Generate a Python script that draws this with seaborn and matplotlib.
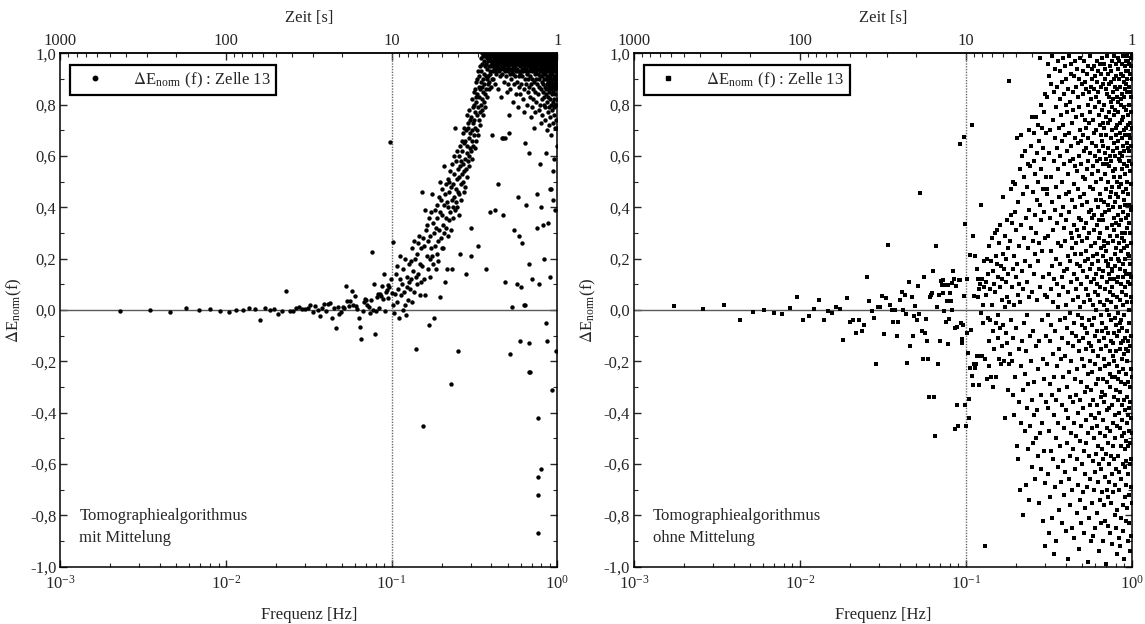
import numpy as np
import pandas as pd
import matplotlib
matplotlib.use("Agg")
import matplotlib.pyplot as plt
import seaborn as sns
from matplotlib.ticker import FixedLocator, FuncFormatter, LogLocator, NullFormatter, MultipleLocator

# ---------------------------------------------------------------------------
# Spectrum of the normalised energy difference, cell 13
# frequency of sample i: (first_bin + i) * bin_width
# ---------------------------------------------------------------------------
first_bin = 2
bin_width_mit = 0.00115     # Hz, with averaging
bin_width_ohne = 0.00087    # Hz, without averaging

# --- with averaging ---------------------------------------------------------
mit_low = [  # below 0.1 Hz
    -0.003, 0.0, -0.008, 0.006, 0.0, 0.005, -0.004, -0.009, 0.0, 0.0,
    0.006, 0.003, -0.038, 0.006, 0.0, 0.005, -0.016, -0.003, 0.074, -0.003,
    -0.003, 0.009, 0.012, 0.005, 0.005, 0.008, 0.019, -0.009, 0.014, 0.001,
    -0.022, 0.006, 0.025, -0.003, 0.022, 0.029, -0.03, 0.006, -0.069, 0.012,
    -0.014, -0.009, 0.012, 0.006, 0.094, 0.034, 0.017, 0.036, 0.075, 0.021,
    0.053, 0.017, 0.004, -0.032, -0.066, -0.113, -0.005, 0.03, 0.042, 0.04,
    0.019, 0.01, -0.012, 0.039, 0.226, 0.001, 0.101, -0.092, -0.003, 0.049,
    0.064, 0.006, 0.062, 0.056, 0.092, 0.044, 0.139, -0.004, 0.071, 0.078,
    0.045, 0.099, 0.088, 0.656, 0.12, 0.066, 0.265, 0.019, -0.012, 0.062,
]
mit_mid = [  # 0.1 - 0.4 Hz
    0.14, 0.03, 0.17, 0.08, -0.03, 0.12, 0.21, 0.06, 0.10, 0.00,
    0.16, 0.07, 0.02, 0.20, -0.02, 0.13, 0.09, 0.04, 0.18, 0.11,
    0.08, 0.19, 0.12, 0.24, 0.03, 0.15, 0.27, 0.07, 0.20, 0.13,
    -0.15, 0.22, 0.10, 0.26, 0.14, 0.29, 0.06, 0.18, 0.24, 0.11,
    0.17, 0.46, 0.28, -0.45, 0.12, 0.25, 0.06, 0.39, 0.31, 0.21,
    0.33, 0.16, 0.27, -0.06, 0.36, 0.13, 0.29, 0.20, 0.38, 0.24,
    0.21, 0.45, 0.34, 0.18, 0.30, -0.03, 0.39, 0.25, 0.16, 0.32,
    0.36, 0.22, 0.41, 0.27, 0.19, 0.44, 0.31, 0.38, 0.05, 0.50,
    0.28, 0.43, 0.37, 0.24, 0.47, 0.33, 0.24, 0.41, 0.30, 0.56,
    0.45, 0.11, 0.32, 0.49, 0.36, 0.42, 0.16, 0.51, 0.29, 0.40,
    0.50, 0.35, 0.46, 0.38, 0.54, 0.31, -0.29, 0.48, 0.16, 0.43,
    0.57, 0.40, 0.49, 0.36, 0.53, 0.44, 0.60, 0.39, 0.71, 0.47,
    0.42, 0.58, 0.51, 0.40, 0.62, -0.16, 0.46, 0.55, 0.37, 0.52,
    0.60, 0.45, 0.56, 0.64, 0.22, 0.49, 0.58, 0.43, 0.66, 0.53,
    0.62, 0.50, 0.69, 0.57, 0.46, 0.65, 0.54, 0.71, 0.59, 0.48,
    0.66, 0.14, 0.55, 0.70, 0.61, 0.76, 0.52, 0.64, 0.73, 0.58,
    0.71, 0.60, 0.78, 0.56, 0.67, 0.74, 0.63, 0.69, 0.32, 0.21,
    0.75, 0.62, 0.70, 0.82, 0.66, 0.59, 0.79, 0.73, 0.64, 0.85,
    0.68, 0.80, 0.74, 0.63, 0.86, 0.71, 0.77, 0.83, 0.66, 0.89,
    0.81, 0.70, 0.90, 0.76, 0.84, 0.68, 0.93, 0.25, 0.79, 0.87,
    0.74, 0.91, 0.83, 0.77, 0.95, 0.86, 0.72, 0.98, 0.80, 0.89,
    0.93, 0.78, 0.87, 1.0, 0.82, 0.96, 0.76, 0.90, 0.99, 0.85,
    0.97, 0.81, 0.92, 0.88, 1.0, 0.84, 0.95, 0.79, 0.99, 0.91,
    0.16, 0.96, 0.86, 1.0, 0.90, 0.98, 0.83, 0.94, 0.99, 0.88,
    0.97, 0.91, 1.0, 0.86, 0.95, 0.99, 0.89, 0.38, 0.98, 0.93,
    1.0, 0.92, 0.97, 0.87, 0.99, 0.95, 0.68, 0.90, 1.0, 0.96,
]
mit_high = [  # 0.4 - 1 Hz
    0.96, 0.99, 0.93, 1.0, 0.97, 0.90, 0.98, 0.95, 0.99, 0.94,
    1.0, 0.97, 0.88, 0.39, 0.96, 0.99, 0.93, 0.98, 1.0, 0.95,
    0.97, 0.92, 0.99, 0.96, 1.0, 0.94, 0.98, 0.86, 0.97, 0.99,
    0.95, 0.49, 1.0, 0.98, 0.93, 0.97, 0.99, 0.91, 0.96, 1.0,
    0.98, 0.94, 0.99, 0.97, 0.83, 1.0, 0.96, 0.98, 0.67, 0.95,
    0.99, 0.97, 0.92, 1.0, 0.98, 0.37, 0.96, 0.99, 0.67, 0.94,
    1.0, 0.97, 0.89, 0.99, 0.95, 0.98, 0.93, 1.0, 0.67, 0.96,
    0.11, 0.99, 0.97, 0.91, 1.0, 0.98, 0.94, 0.99, 0.85, 0.97,
    1.0, 0.96, 0.99, 0.93, 0.98, 0.97, 0.88, 1.0, 0.95, 0.99,
    0.97, 0.76, 0.94, 0.69, 1.0, 0.98, 0.92, 0.99, 0.96, 0.86,
    -0.17, 0.99, 0.97, 1.0, 0.94, 0.98, 0.90, 0.96, 0.99, 0.01,
    0.98, 1.0, 0.93, 0.97, 0.99, 0.81, 0.95, 1.0, 0.97, 0.92,
    0.99, 0.96, 1.0, 0.88, 0.98, 0.94, 0.31, 0.99, 0.97, 1.0,
    0.95, 0.98, 0.91, 0.99, 0.84, 1.0, 0.97, 0.93, 0.99, 0.96,
    1.0, 0.98, 0.89, 0.97, 0.10, 0.99, 0.94, 1.0, 0.96, 0.79,
    0.98, 0.93, 0.44, 0.99, 0.97, 1.0, 0.91, 0.96, 0.98, 0.87,
    0.99, 0.29, -0.12, 0.95, 1.0, 0.97, 0.92, 0.99, 0.84, 0.98,
    0.09, 0.96, 1.0, 0.93, 0.98, 0.99, 0.88, 0.97, 1.0, 0.94,
    0.99, 0.26, 0.96, 0.91, 1.0, 0.98, 0.82, 0.97, 0.99, 0.93,
    1.0, 0.95, 0.98, 0.86, 0.99, 0.96, 0.02, 0.77, 1.0, 0.94,
    0.97, 0.99, 0.90, 1.0, 0.65, 0.02, 0.98, 0.93, 0.96, 0.99,
    0.88, 1.0, 0.97, 0.41, 0.94, 0.99, 0.98, 0.80, 0.96, 1.0,
    0.92, 0.98, 0.99, 0.85, 0.97, 1.0, 0.95, 0.90, 0.99, 0.96,
    -0.13, 0.18, 0.61, -0.24, 0.98, 0.93, 1.0, 0.87, 0.99, -0.24,
    0.97, 0.94, 0.99, 0.83, 1.0, 0.96, 0.91, 0.98, 0.75, 0.99,
    0.95, 1.0, 0.88, 0.97, 0.99, 0.93, 0.79, 1.0, 0.96, 0.98,
    0.90, 0.99, 0.12, 0.97, 1.0, 0.94, 0.86, 0.98, 0.96, 0.99,
    0.82, 1.0, 0.93, 0.97, 0.71, 0.99, 0.95, 0.89, 1.0, 0.98,
    0.96, 0.92, 0.99, 0.77, 1.0, 0.97, 0.94, 0.98, 0.85, 0.99,
    1.0, 0.95, 0.90, 0.98, 0.97, 0.81, 0.99, 0.93, 1.0, 0.96,
    0.32, 0.98, 0.88, 0.99, 0.94, 1.0, 0.45, 0.97, -0.65, -0.42,
    -0.72, -0.87, 0.96, 0.92, 0.99, 0.84, 1.0, 0.97, 0.78, 0.98,
    0.94, 0.99, 0.90, 1.0, 0.96, 0.87, 0.10, 0.57, 0.98, 0.93,
    0.99, 0.80, 0.97, 1.0, 0.91, 0.95, 0.98, 0.73, 0.99, 0.86,
    0.96, 1.0, 0.93, 0.40, -0.62, 0.98, 0.89, 0.99, 0.82, 0.97,
    1.0, 0.94, 0.91, 0.98, 0.76, 0.99, 0.96, 0.85, 1.0, 0.92,
    0.97, 0.33, 0.99, 0.88, 0.95, 1.0, 0.80, 0.98, 0.93, 0.20,
    0.99, 0.96, 0.83, 1.0, 0.90, 0.97, 0.74, 0.99, 0.94, 0.87,
    1.0, 0.98, 0.92, 0.79, 0.97, 0.99, 0.86, 0.61, -0.05, 0.95,
    0.99, 0.90, 1.0, 0.84, 0.97, 0.93, 0.70, 0.98, 0.88, 0.96,
    1.0, 0.81, 0.94, 0.99, 0.91, -0.12, 0.97, 0.77, 0.98, 0.86,
    0.93, 1.0, 0.89, 0.96, 0.34, 0.99, 0.83, 0.95, 0.72, 0.98,
    0.90, 1.0, 0.87, 0.97, 0.79, 0.94, 0.99, 0.85, 0.92, 0.97,
    0.47, 0.13, 1.0, 0.88, 0.95, 0.82, 0.98, 0.91, 0.75, 0.99,
    0.86, 0.96, 0.93, 1.0, 0.80, 0.97, 0.89, 0.68, 0.47, 0.99,
    0.92, 0.84, 0.98, 0.95, 0.78, 1.0, 0.87, -0.31, 0.94, 0.90,
    0.99, 0.81, 0.96, 0.73, 0.93, 0.43, 0.54, 1.0, 0.88, 0.97,
    0.85, 0.94, 0.99, 0.79, 0.91, 0.97, 0.87, 1.0, 0.82, 0.95,
    0.98, 0.90, 0.76, 0.59, 0.97, 0.93, 0.86, 0.99, 0.80, 0.96,
    0.89, 0.39, 1.0, 0.84, 0.95, 0.71, 0.98, 0.91, 0.87, 0.97,
    -0.16, 0.93, 0.80, 0.99, 0.88, 0.96, 0.74, 0.94, 0.90, 0.64,
    1.0, 0.87, 0.97, 0.82, 0.92, 0.98, 0.71, 0.95,
]

# --- without averaging ------------------------------------------------------
ohne_low = [  # below 0.1 Hz
    0.017, 0.004, 0.02, -0.04, -0.008, 0.0, -0.01, -0.014, 0.009, 0.05,
    -0.04, -0.025, 0.005, 0.04, -0.04, -0.005, -0.01, 0.013, 0.005, -0.118,
    0.045, -0.045, -0.04, -0.09, -0.04, -0.08, -0.06, 0.13, 0.035, -0.005,
    -0.03, -0.21, 0.012, 0.01, 0.055, -0.095, 0.045, 0.252, 0.02, 0.0,
    -0.047, 0.0, -0.10, -0.047, 0.04, 0.07, 0.0, 0.06, -0.015, -0.205,
    0.11, -0.14, 0.05, -0.1, -0.025, 0.015, -0.04, 0.095, -0.015, 0.455,
    -0.08, -0.19, 0.13, -0.09, -0.035, -0.12, -0.19, -0.34, 0.05, 0.06,
    0.065, 0.15, -0.34, -0.49, 0.25, 0.01, -0.21, 0.06, -0.12, 0.112,
    0.099, 0.117, 0.065, -0.004, 0.096, -0.047, 0.035, -0.132, 0.096, -0.034,
    0.065, 0.036, 0.104, 0.0, 0.151, 0.12, -0.069, -0.462, 0.095, -0.068,
    -0.369, -0.452, 0.117, 0.648, 0.117, -0.05, -0.114, -0.13, -0.06, 0.055,
]
ohne_mid = [  # 0.1 - 0.3 Hz
    0.675, 0.335, -0.37, -0.45, 0.12, -0.088, -0.169, -0.42, -0.348, 0.213,
    -0.226, -0.078, 0.72, -0.257, -0.292, 0.29, -0.209, 0.055, 0.21, -0.224,
    -0.21, 0.16, -0.18, 0.05, 0.12, -0.293, 0.08, -0.18, 0.10, -0.01,
    0.41, 0.12, -0.18, 0.02, -0.05, 0.19, 0.09, -0.19, -0.92, 0.11,
    0.06, -0.27, 0.20, -0.03, 0.14, -0.12, 0.25, -0.22, 0.08, -0.04,
    0.19, -0.26, 0.02, 0.28, -0.08, 0.15, -0.30, 0.10, -0.15, 0.30,
    0.07, -0.26, 0.21, -0.05, 0.31, 0.18, -0.11, 0.13, -0.02, 0.26,
    -0.19, 0.09, 0.33, -0.07, 0.17, -0.21, 0.04, 0.12, -0.14, 0.22,
    -0.06, 0.44, 0.16, -0.20, 0.01, 0.29, -0.42, 0.11, -0.09, 0.20,
    0.35, -0.13, 0.05, -0.31, 0.24, 0.14, -0.21, 0.894, 0.03, -0.17,
    0.27, 0.37, -0.04, 0.47, -0.20, 0.09, 0.34, -0.33, 0.16, 0.50,
    -0.11, 0.21, -0.41, 0.02, 0.38, 0.49, -0.26, 0.13, -0.07, 0.31,
    -0.53, 0.18, 0.67, -0.58, 0.06, 0.42, -0.15, 0.25, -0.36, 0.10,
    0.55, -0.70, 0.03, 0.68, -0.22, 0.33, -0.44, 0.15, -0.12, 0.60,
    -0.31, 0.45, -0.80, 0.08, 0.28, -0.05, 0.52, -0.47, 0.19, -0.25,
    0.62, -0.16, 0.36, -0.68, 0.11, 0.48, -0.38, -0.02, 0.57, -0.54,
    0.24, -0.29, 0.70, 0.05, -0.74, 0.39, -0.10, 0.56, -0.45, 0.17,
    0.64, -0.20, 0.32, -0.61, 0.07, 0.75, -0.35, 0.27, -0.52, 0.46,
    -0.08, 0.58, -0.41, 0.14, 0.69, -0.28, 0.37, -0.66, 0.22, 0.53,
    -0.14, 0.75, -0.50, 0.30, 0.04, 0.61, -0.39, 0.43, -0.57, 0.19,
    0.72, -0.23, 0.50, -0.75, 0.26, 0.66, -0.12, 0.41, -0.48, 0.98,
    0.09, -0.33, 0.55, 0.80, -0.62, 0.35, -0.04, 0.71, -0.44, 0.23,
    0.63, -0.19, 0.47, -0.82, 0.13, 0.77, -0.55, 0.38, -0.27, 0.59,
    -0.92, 0.28, 0.84, -0.675, 0.06, 0.52, -0.36, 0.69, -0.10, 0.45,
]
ohne_high = [  # 0.3 - 1 Hz
    0.83, -0.21, 0.47, 0.05, -0.64, 0.96, -0.38, 0.29, -0.02, -0.87,
    0.61, 0.14, -0.47, 0.91, -0.12, 0.36, -0.73, 0.70, -0.29, 0.08,
    -0.55, 0.88, 0.23, -0.06, 0.52, -0.33, 0.99, -0.81, 0.17, 0.42,
    0.74, -0.17, -0.58, 0.31, 0.03, 0.85, -0.41, 0.58, -0.95, 0.12,
    -0.26, 0.67, 0.39, -0.69, 0.94, -0.08, 0.20, -0.50, 0.79, -0.35,
    0.48, -0.90, 0.10, 0.63, -0.22, 0.34, 0.87, -0.61, 0.01, 0.55,
    -0.44, 0.26, 0.97, -0.15, 0.71, -0.78, 0.44, 0.06, -0.31, 0.82,
    0.18, -0.53, 0.60, -0.04, 0.93, 0.37, -0.67, 0.25, -0.19, 0.76,
    -0.83, 0.50, 0.13, 0.89, -0.37, 0.66, -0.11, 0.40, -0.59, 0.98,
    0.09, -0.26, 0.72, -0.46, 0.32, 0.84, -0.72, 0.15, 0.57, -0.03,
    0.95, -0.63, 0.27, -0.18, 0.68, 0.45, -0.86, 0.02, -0.39, 0.80,
    0.35, 0.90, -0.07, -0.52, 0.16, 0.77, -0.30, 0.62, -0.97, 0.21,
    -0.13, 0.53, 0.86, -0.42, 0.07, -0.66, 0.38, 0.99, -0.24, 0.46,
    0.69, -0.34, 0.19, 0.81, -0.57, -0.01, 0.58, -0.76, 0.30, 0.92,
    -0.48, 0.11, 0.64, -0.20, 0.96, 0.28, -0.85, 0.43, -0.09, 0.73,
    0.24, -0.70, 0.85, 0.04, -0.36, 0.59, -0.14, 0.78, -0.54, 0.33,
    0.91, -0.05, -0.44, 0.49, 0.14, -0.89, 0.67, -0.27, 0.22, 0.56,
    -0.62, 0.40, 0.97, -0.10, 0.26, -0.49, 0.75, 0.08, -0.33, 0.87,
    0.12, -0.79, 0.54, 0.31, -0.23, 0.94, -0.58, 0.18, 0.65, -0.02,
    -0.40, 0.83, 0.05, -0.68, 0.47, 0.29, -0.16, 0.90, -0.93, 0.36,
    0.60, -0.12, 0.79, -0.51, 0.01, 0.70, -0.35, 0.44, 0.17, -0.74,
    0.98, 0.22, -0.28, 0.57, -0.83, 0.10, 0.66, -0.45, 0.35, -0.06,
    -0.19, 0.76, 0.41, -0.60, 0.88, -0.03, 0.27, -0.71, 0.52, 0.93,
    0.15, -0.38, 0.68, 0.84, -0.11, -0.55, 0.32, 0.03, -0.87, 0.62,
    0.45, 0.97, -0.22, 0.19, -0.64, 0.74, -0.07, 0.51, -0.32, 0.89,
    -0.77, 0.34, 0.08, 0.63, -0.43, 0.86, -0.15, 0.23, 0.71, -0.52,
    0.28, -0.09, 0.92, -0.30, 0.55, -0.69, 0.42, 0.13, -0.98, 0.80,
    0.67, -0.48, 0.20, 0.95, -0.25, 0.06, 0.58, -0.81, 0.38, -0.13,
    -0.57, 0.73, 0.30, -0.04, 0.85, -0.37, 0.16, 0.61, -0.20, 0.99,
    0.04, 0.48, -0.66, 0.77, -0.14, 0.39, -0.90, 0.25, 0.87, -0.41,
    0.82, -0.31, 0.11, 0.53, -0.75, 0.94, -0.06, 0.36, -0.46, 0.18,
    -0.24, 0.65, 0.90, -0.59, 0.21, 0.02, 0.74, -0.35, 0.47, -0.88,
    0.56, -0.16, 0.37, 0.86, -0.50, 0.69, -0.03, -0.70, 0.12, 0.95,
    0.31, 0.79, -0.42, 0.07, 0.60, -0.21, 0.91, -0.63, 0.26, -0.10,
    -0.85, 0.43, 0.14, 0.70, -0.29, 0.50, -0.56, 0.83, 0.00, 0.64,
    0.97, -0.37, 0.58, -0.08, 0.33, -0.79, 0.22, 0.89, -0.45, 0.10,
    0.19, 0.85, -0.53, 0.40, 0.93, -0.18, -0.67, 0.54, 0.06, -0.27,
    -0.12, 0.62, 0.28, -0.94, 0.76, 0.35, -0.40, 0.16, 0.81, -0.60,
    0.72, -0.23, 0.96, 0.09, -0.48, 0.45, 0.03, -0.74, 0.59, 0.30,
    -0.34, 0.51, -0.02, 0.87, 0.24, -0.62, 0.68, -0.15, 0.92, -0.83,
    0.43, 0.13, -0.71, 0.66, -0.05, 0.98, -0.32, 0.37, -0.54, 0.78,
    -0.08, 0.88, 0.35, -0.27, 0.57, -0.90, 0.15, 0.73, -0.43, 0.21,
    0.64, -0.58, 0.80, 0.02, -0.19, 0.42, 0.96, -0.36, 0.27, -0.76,
    0.25, 0.71, -0.11, 0.53, -0.82, 0.08, 0.61, -0.49, 0.90, -0.22,
    -0.65, 0.38, 0.94, -0.33, 0.19, 0.75, -0.07, 0.47, -0.99, 0.59,
    0.86, -0.14, 0.23, -0.56, 0.68, 0.32, -0.39, 0.99, 0.04, -0.70,
    0.11, 0.57, -0.46, 0.84, -0.28, 0.00, 0.73, -0.84, 0.41, 0.17,
    -0.52, 0.92, 0.18, -0.09, 0.63, -0.73, 0.50, 0.26, -0.21, 0.83,
    0.39, -0.67, 0.77, 0.14, -0.38, 0.88, -0.02, 0.56, -0.60, 0.07,
    0.95, 0.29, -0.25, 0.60, -0.87, 0.44, 0.12, -0.47, 0.74, -0.16,
    -0.30, 0.81, 0.46, -0.75, 0.03, 0.67, -0.12, 0.93, 0.20, -0.57,
    0.58, -0.04, 0.89, 0.33, -0.64, 0.15, 0.79, -0.26, -0.91, 0.48,
    0.16, 0.70, -0.37, 0.97, 0.09, -0.53, 0.40, 0.62, -0.18, 0.85,
    -0.71, 0.27, 0.54, -0.13, 0.82, -0.44, 0.06, 0.76, -0.34, 0.36,
    0.90, -0.20, 0.12, 0.65, -0.58, 0.99, -0.09, 0.31, 0.52, -0.80,
    0.22, 0.78, -0.50, 0.42, -0.03, 0.87, -0.68, 0.17, -0.26, 0.60,
    -0.41, 0.55, 0.96, -0.16, 0.24, -0.85, 0.71, 0.01, 0.45, -0.06,
    0.68, -0.31, 0.34, 0.91, -0.62, 0.11, 0.50, -0.22, 0.83, -0.95,
    0.05, 0.63, -0.78, 0.29, 0.86, -0.10, -0.45, 0.72, 0.37, 0.98,
    -0.27, 0.44, 0.81, -0.57, 0.13, 0.66, -0.35, 0.94, -0.01, 0.20,
    0.77, -0.89, 0.19, 0.48, -0.08, 0.59, 0.90, -0.40, 0.26, -0.63,
    0.33, 0.97, -0.24, -0.70, 0.52, 0.04, 0.73, -0.15, 0.61, -0.46,
    -0.05, 0.69, 0.40, -0.92, 0.87, -0.32, 0.16, 0.58, -0.53, 0.80,
    0.49, -0.13, 0.92, 0.23, -0.66, 0.35, -0.04, 0.82, -0.28, 0.10,
    -0.81, 0.60, 0.07, 0.74, -0.19, 0.96, -0.49, 0.30, 0.67, -0.37,
    0.84, -0.43, 0.55, -0.07, 0.28, -0.76, 0.99, 0.13, -0.23, 0.46,
    0.18, 0.75, -0.60, 0.38, 0.91, -0.12, 0.02, -0.86, 0.64, 0.27,
    -0.35, 0.89, 0.24, -0.48, 0.57, 0.70, -0.17, 0.43, -0.97, 0.79,
    0.62, -0.02, 0.83, -0.73, 0.15, 0.41, -0.54, 0.95, 0.09, -0.29,
    0.30, 0.68, -0.39, 0.86, -0.11, -0.61, 0.53, 0.20, -0.82, 0.97,
    -0.15, 0.47, 0.93, 0.06, -0.51, 0.78, -0.25, 0.36, 0.88, -0.68,
    0.71, -0.59, 0.14, 0.99, -0.34, 0.25, 0.65, -0.08, 0.50, -0.44,
    0.03, 0.85, -0.20, 0.56, -0.77, 0.90, 0.32, -0.41, -0.12, 0.76,
    -0.64, 0.37, 0.72, -0.28, 0.97, 0.11, -0.53, 0.63, 0.22, -0.90,
    0.93, -0.16, 0.45, 0.80, -0.38, 0.00, 0.68, -0.72, 0.34, 0.58,
    -0.47, 0.21, 0.87, -0.05, 0.62, -0.83, 0.41, 0.96, -0.30, 0.14,
    0.54, 0.92, -0.60, 0.30, -0.14, 0.73, -0.94, 0.18, 0.85, -0.36,
    0.10, -0.52, 0.67, 0.98, -0.23, 0.39, 0.05, -0.69, 0.77, 0.49,
    -0.88, 0.64, 0.26, -0.42, 0.83, -0.10, 0.95, -0.58, 0.13, 0.71,
    0.40, -0.26, 0.90, -0.75, 0.57, 0.03, 0.99, -0.48,
]

legend_label = r"$\Delta$E$_{\mathregular{norm}}$ (f) : Zelle 13"
y_label = r"$\Delta$E$_{\mathregular{norm}}$(f)"
panel_notes = ["Tomographiealgorithmus\nmit Mittelung",
               "Tomographiealgorithmus\nohne Mittelung"]
time_ticks = [1000, 100, 10, 1]
y_ticks = [-1.0, -0.8, -0.6, -0.4, -0.2, 0.0, 0.2, 0.4, 0.6, 0.8, 1.0]


def spectrum_frame(values, width):
    bins = first_bin + np.arange(len(values))
    return pd.DataFrame({"freq": bins * width, "dE": values})


panels = [
    (spectrum_frame(mit_low + mit_mid + mit_high, bin_width_mit), "o", 10),
    (spectrum_frame(ohne_low + ohne_mid + ohne_high, bin_width_ohne), "s", 8),
]

sns.set_style("ticks")
plt.rcParams["font.family"] = ["Liberation Serif", "DejaVu Serif"]
plt.rcParams["mathtext.fontset"] = "stix"
plt.rcParams["font.size"] = 12
plt.rcParams["axes.unicode_minus"] = False

fig = plt.figure(figsize=(11.45, 6.24), dpi=100)
axes = [fig.add_axes([0.0528, 0.0918, 0.434, 0.8228]),
        fig.add_axes([0.5537, 0.0918, 0.435, 0.8228])]


def inv(v):
    v = np.asarray(v, dtype=float)
    return 1.0 / np.where(v == 0, 1e-12, v)


for ax, (df, marker, size), note in zip(axes, panels, panel_notes):
    ax.set_xscale("log")
    ax.set_xlim(1e-3, 1.0)
    ax.set_ylim(-1.0, 1.0)

    ax.axhline(0.0, color="#5a5a5a", lw=1.0, zorder=1)
    ax.axvline(0.1, color="#6a6a6a", lw=1.0, ls=(0, (1, 1)), zorder=1)

    sns.scatterplot(data=df, x="freq", y="dE", ax=ax, color="black",
                    marker=marker, s=size, linewidth=0, label=legend_label,
                    zorder=3, legend=False)

    # axes, ticks
    for sp in ax.spines.values():
        sp.set_visible(True)
        sp.set_linewidth(1.1)
        sp.set_color("black")
    ax.yaxis.set_major_locator(FixedLocator(y_ticks))
    ax.yaxis.set_minor_locator(MultipleLocator(0.1))
    ax.yaxis.set_major_formatter(
        FuncFormatter(lambda v, p: f"{v:.1f}".replace(".", ",").replace("-0,0", "0,0")))
    ax.xaxis.set_major_locator(LogLocator(base=10, numticks=10))
    ax.xaxis.set_minor_locator(LogLocator(base=10, subs=np.arange(2, 10), numticks=10))
    ax.xaxis.set_minor_formatter(NullFormatter())
    ax.tick_params(axis="x", which="both", direction="in", top=False, bottom=True,
                   labelsize=12, pad=6)
    ax.tick_params(axis="y", which="both", direction="in", left=True, right=True,
                   labelsize=12, pad=3)
    ax.tick_params(which="major", length=5, width=1)
    ax.tick_params(which="minor", length=3, width=0.8)

    ax.set_xlabel("Frequenz [Hz]", fontsize=12, labelpad=10)
    ax.set_ylabel(y_label, fontsize=12, labelpad=4)

    top = ax.secondary_xaxis("top", functions=(inv, inv))
    top.xaxis.set_major_locator(FixedLocator(time_ticks))
    top.xaxis.set_major_formatter(FuncFormatter(lambda v, p: f"{v:g}"))
    top.xaxis.set_minor_locator(LogLocator(base=10, subs=np.arange(2, 10), numticks=10))
    top.xaxis.set_minor_formatter(NullFormatter())
    top.tick_params(which="both", direction="in", labelsize=12, pad=3)
    top.tick_params(which="major", length=5, width=1)
    top.tick_params(which="minor", length=3, width=0.8)
    top.spines["top"].set_linewidth(1.1)
    top.set_xlabel("Zeit [s]", fontsize=12, labelpad=8)

    handle = plt.Line2D([], [], ls="none", marker=marker, color="black",
                        markersize=3.2 if marker == "o" else 2.8)
    leg = ax.legend([handle], [legend_label], loc="upper left",
                    bbox_to_anchor=(0.02, 0.978), frameon=True, fancybox=False,
                    framealpha=1, edgecolor="black", fontsize=12,
                    handlelength=2.2, handletextpad=1.2, borderpad=0.35,
                    borderaxespad=0)
    leg.get_frame().set_linewidth(1.6)

    ax.text(0.038, 0.115, note, transform=ax.transAxes, fontsize=12,
            va="top", ha="left", linespacing=1.5)

fig.savefig("out.png", dpi=100)
